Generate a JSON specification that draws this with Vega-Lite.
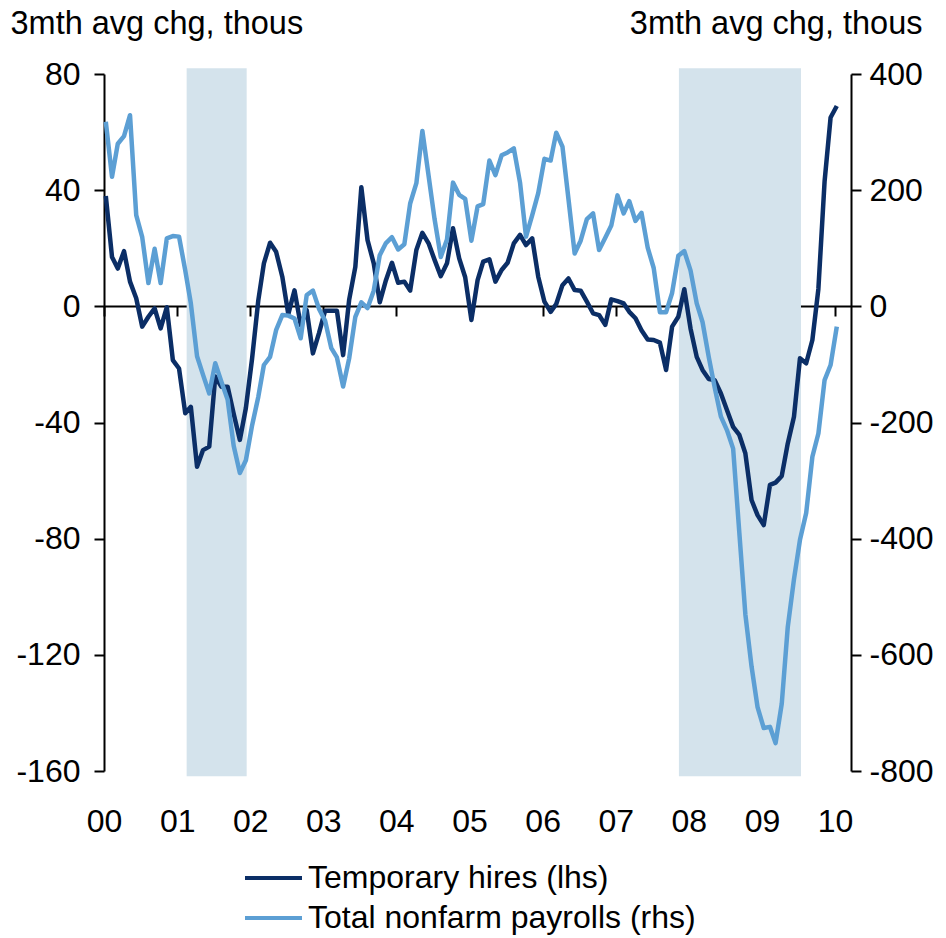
{
  "$schema": "https://vega.github.io/schema/vega-lite/v6.json",
  "width": 747,
  "height": 697,
  "autosize": {"type": "none"},
  "padding": {"left": 104, "top": 74, "right": 95, "bottom": 167},
  "background": "white",
  "config": {
    "view": {"stroke": null},
    "font": "Liberation Sans",
    "axis": {
      "domainColor": "black", "domainWidth": 2, "tickColor": "black", "tickWidth": 2, "tickSize": 10,
      "labelColor": "black", "labelFontSize": 32, "labelFont": "Liberation Sans", "grid": false,
      "titleFont": "Liberation Sans", "titleFontSize": 32.5, "titleFontWeight": "normal", "titleColor": "black",
      "zindex": 1
    },
    "legend": {
      "orient": "none", "legendX": 139, "legendY": 784, "direction": "vertical", "title": null,
      "symbolType": "stroke", "symbolStrokeWidth": 4, "symbolSize": 3249,
      "labelFontSize": 32, "labelFont": "Liberation Sans", "labelColor": "black", "labelOffset": 4,
      "rowPadding": 0, "clipHeight": 40, "padding": 0, "labelLimit": 1000
    }
  },
  "datasets": {
    "rec": [
      {"start": "2001-02-17", "end": "2001-12-14"},
      {"start": "2007-11-13", "end": "2009-07-15"}
    ],
    "series": [
      {"d":"2000-01-10","t":38,"p":318},
      {"d":"2000-02-10","t":17,"p":223},
      {"d":"2000-03-10","t":13,"p":280},
      {"d":"2000-04-10","t":19,"p":293},
      {"d":"2000-05-10","t":8.5,"p":329},
      {"d":"2000-06-10","t":2.8,"p":157},
      {"d":"2000-07-10","t":-7,"p":119},
      {"d":"2000-08-10","t":-3.6,"p":40},
      {"d":"2000-09-10","t":-0.7,"p":99},
      {"d":"2000-10-10","t":-7.6,"p":40},
      {"d":"2000-11-10","t":-0.3,"p":117},
      {"d":"2000-12-10","t":-18.5,"p":121},
      {"d":"2001-01-10","t":-21.4,"p":120},
      {"d":"2001-02-10","t":-36.8,"p":62},
      {"d":"2001-03-10","t":-34.6,"p":5},
      {"d":"2001-04-10","t":-55.2,"p":-86},
      {"d":"2001-05-10","t":-49.5,"p":-118},
      {"d":"2001-06-10","t":-48.3,"p":-150},
      {"d":"2001-07-10","t":-24.2,"p":-98},
      {"d":"2001-08-10","t":-27.7,"p":-130},
      {"d":"2001-09-10","t":-27.7,"p":-161},
      {"d":"2001-10-10","t":-37,"p":-240},
      {"d":"2001-11-10","t":-46,"p":-287},
      {"d":"2001-12-10","t":-35,"p":-265},
      {"d":"2002-01-10","t":-18,"p":-205},
      {"d":"2002-02-10","t":2,"p":-156},
      {"d":"2002-03-10","t":14.8,"p":-101},
      {"d":"2002-04-10","t":21.9,"p":-87},
      {"d":"2002-05-10","t":18.8,"p":-41},
      {"d":"2002-06-10","t":10.2,"p":-15},
      {"d":"2002-07-10","t":-2.7,"p":-16},
      {"d":"2002-08-10","t":5.5,"p":-21},
      {"d":"2002-09-10","t":-6.5,"p":-55},
      {"d":"2002-10-10","t":-1.3,"p":19.5},
      {"d":"2002-11-10","t":-16.2,"p":27},
      {"d":"2002-12-10","t":-9.3,"p":-4},
      {"d":"2003-01-10","t":-1.5,"p":-25},
      {"d":"2003-02-10","t":-1.5,"p":-72},
      {"d":"2003-03-10","t":-1.5,"p":-88},
      {"d":"2003-04-10","t":-16.8,"p":-138},
      {"d":"2003-05-10","t":2.2,"p":-90},
      {"d":"2003-06-10","t":13.6,"p":-18},
      {"d":"2003-07-10","t":41,"p":7},
      {"d":"2003-08-10","t":22.8,"p":-3},
      {"d":"2003-09-10","t":14.8,"p":27},
      {"d":"2003-10-10","t":1.4,"p":88},
      {"d":"2003-11-10","t":9,"p":109},
      {"d":"2003-12-10","t":15,"p":119},
      {"d":"2004-01-10","t":8.1,"p":98},
      {"d":"2004-02-10","t":8.5,"p":107},
      {"d":"2004-03-10","t":5.4,"p":177},
      {"d":"2004-04-10","t":19.4,"p":212},
      {"d":"2004-05-10","t":25.3,"p":302},
      {"d":"2004-06-10","t":21.7,"p":225},
      {"d":"2004-07-10","t":16,"p":150},
      {"d":"2004-08-10","t":10.4,"p":85},
      {"d":"2004-09-10","t":14.8,"p":115},
      {"d":"2004-10-10","t":26.9,"p":213},
      {"d":"2004-11-10","t":16.5,"p":192},
      {"d":"2004-12-10","t":10,"p":185},
      {"d":"2005-01-10","t":-4.7,"p":113},
      {"d":"2005-02-10","t":9,"p":172},
      {"d":"2005-03-10","t":15.4,"p":176},
      {"d":"2005-04-10","t":16.2,"p":251},
      {"d":"2005-05-10","t":8.5,"p":226},
      {"d":"2005-06-10","t":12.5,"p":260},
      {"d":"2005-07-10","t":15,"p":265},
      {"d":"2005-08-10","t":21.7,"p":272},
      {"d":"2005-09-10","t":24.6,"p":213},
      {"d":"2005-10-10","t":21.1,"p":120},
      {"d":"2005-11-10","t":23.4,"p":157},
      {"d":"2005-12-10","t":10.2,"p":195},
      {"d":"2006-01-10","t":1.6,"p":254},
      {"d":"2006-02-10","t":-1.9,"p":251},
      {"d":"2006-03-10","t":0.8,"p":299},
      {"d":"2006-04-10","t":7.3,"p":275},
      {"d":"2006-05-10","t":9.6,"p":185},
      {"d":"2006-06-10","t":5.6,"p":91},
      {"d":"2006-07-10","t":5.4,"p":113},
      {"d":"2006-08-10","t":1.6,"p":150},
      {"d":"2006-09-10","t":-2.4,"p":160},
      {"d":"2006-10-10","t":-3,"p":97},
      {"d":"2006-11-10","t":-6.4,"p":118},
      {"d":"2006-12-10","t":2.4,"p":139},
      {"d":"2007-01-10","t":1.8,"p":191},
      {"d":"2007-02-10","t":1,"p":160},
      {"d":"2007-03-10","t":-1.9,"p":181},
      {"d":"2007-04-10","t":-4.1,"p":147},
      {"d":"2007-05-10","t":-8.2,"p":161},
      {"d":"2007-06-10","t":-11.4,"p":101},
      {"d":"2007-07-10","t":-11.6,"p":66},
      {"d":"2007-08-10","t":-12.5,"p":-10},
      {"d":"2007-09-10","t":-21.9,"p":-10},
      {"d":"2007-10-10","t":-7,"p":23},
      {"d":"2007-11-10","t":-3.6,"p":87},
      {"d":"2007-12-10","t":5.9,"p":95},
      {"d":"2008-01-10","t":-7.6,"p":62},
      {"d":"2008-02-10","t":-17.4,"p":5},
      {"d":"2008-03-10","t":-21.9,"p":-27},
      {"d":"2008-04-10","t":-25,"p":-87},
      {"d":"2008-05-10","t":-25.4,"p":-140},
      {"d":"2008-06-10","t":-30,"p":-190},
      {"d":"2008-07-10","t":-35.7,"p":-213},
      {"d":"2008-08-10","t":-41.5,"p":-245},
      {"d":"2008-09-10","t":-44.3,"p":-390},
      {"d":"2008-10-10","t":-50.6,"p":-530},
      {"d":"2008-11-10","t":-66.7,"p":-620},
      {"d":"2008-12-10","t":-71.9,"p":-690},
      {"d":"2009-01-10","t":-75.3,"p":-726},
      {"d":"2009-02-10","t":-61.5,"p":-724},
      {"d":"2009-03-10","t":-60.7,"p":-752},
      {"d":"2009-04-10","t":-58.4,"p":-684},
      {"d":"2009-05-10","t":-47.2,"p":-552},
      {"d":"2009-06-10","t":-38,"p":-470},
      {"d":"2009-07-10","t":-17.9,"p":-402},
      {"d":"2009-08-10","t":-19.6,"p":-356},
      {"d":"2009-09-10","t":-11.6,"p":-259},
      {"d":"2009-10-10","t":6,"p":-219},
      {"d":"2009-11-10","t":43,"p":-127},
      {"d":"2009-12-10","t":65,"p":-101},
      {"d":"2010-01-10","t":69,"p":-35}
    ]
  },
  "layer": [
    {
      "layer": [
        {
          "data": {"name": "rec"},
          "mark": {"type": "rect", "color": "#D4E3EC"},
          "encoding": {
            "x": {
              "field": "start", "type": "temporal",
              "scale": {"type": "utc", "domain": [946684800000, 1269216000000]},
              "axis": {
                "orient": "bottom", "offset": -465,
                "values": [946684800000, 978307200000, 1009843200000, 1041379200000, 1072915200000, 1104537600000, 1136073600000, 1167609600000, 1199145600000, 1230768000000, 1262304000000],
                "labelExpr": "utcFormat(datum.value, '%y')", "labelPadding": 490, "labelBaseline": "top",
                "labelFlush": false, "labelOverlap": false, "title": null
              }
            },
            "x2": {"field": "end"},
            "y": {
              "datum": 82, "type": "quantitative",
              "scale": {"domain": [-160, 80], "nice": false, "zero": false},
              "axis": {
                "orient": "left", "values": [-160, -120, -80, -40, 0, 40, 80],
                "labelExpr": "'' + datum.value", "labelPadding": 14,
                "title": "3mth avg chg, thous", "titleAngle": 0, "titleAlign": "left",
                "titleBaseline": "alphabetic", "titleX": -94, "titleY": -41
              }
            },
            "y2": {"datum": -161.8}
          }
        },
        {
          "data": {"name": "series"},
          "mark": {"type": "line", "strokeWidth": 4.5, "strokeJoin": "round"},
          "encoding": {
            "x": {"field": "d", "type": "temporal"},
            "y": {"field": "t", "type": "quantitative"},
            "color": {
              "datum": "Temporary hires (lhs)", "type": "nominal",
              "scale": {"domain": ["Temporary hires (lhs)", "Total nonfarm payrolls (rhs)"], "range": ["#0B2E66", "#5C9FD4"]}
            }
          }
        }
      ]
    },
    {
      "data": {"name": "series"},
      "mark": {"type": "line", "strokeWidth": 4.5, "strokeJoin": "round"},
      "encoding": {
        "x": {"field": "d", "type": "temporal"},
        "y": {
          "field": "p", "type": "quantitative",
          "scale": {"domain": [-800, 400], "nice": false, "zero": false},
          "axis": {
            "orient": "right", "values": [-800, -600, -400, -200, 0, 200, 400],
            "labelExpr": "'' + datum.value", "labelPadding": 8,
            "title": "3mth avg chg, thous", "titleAngle": 0, "titleAlign": "right",
            "titleBaseline": "alphabetic", "titleX": 71, "titleY": -41
          }
        },
        "color": {"datum": "Total nonfarm payrolls (rhs)", "type": "nominal"}
      }
    }
  ],
  "resolve": {"scale": {"y": "independent"}}
}
